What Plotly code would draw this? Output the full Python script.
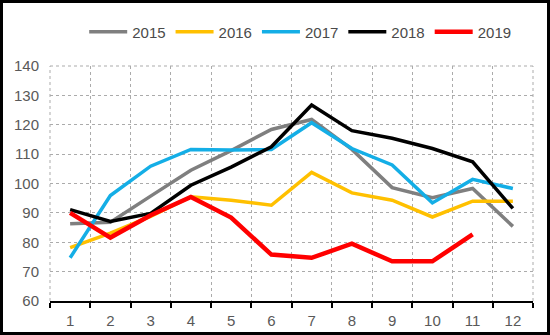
import plotly.graph_objects as go

# Monthly index values, one list per year
months = ["1", "2", "3", "4", "5", "6", "7", "8", "9", "10", "11", "12"]
y2015 = [86.3, 86.8, 95.7, 104.5, 111.2, 118.4, 121.8, 111.6, 98.6, 95.2, 98.3, 85.4]
y2016 = [78.2, 83.1, 88.8, 95.5, 94.3, 92.6, 103.8, 96.8, 94.3, 88.6, 94.0, 94.0]
y2017 = [74.7, 95.9, 105.9, 111.6, 111.4, 111.6, 120.7, 111.9, 106.3, 93.4, 101.4, 98.3]
y2018 = [91.1, 87.1, 89.8, 99.4, 105.6, 112.5, 126.7, 118.0, 115.4, 111.9, 107.4, 91.5]
y2019 = [90.0, 81.6, 89.2, 95.4, 88.4, 75.8, 74.7, 79.5, 73.5, 73.5, 82.7]

years = ["2015", "2016", "2017", "2018", "2019"]
series = [y2015, y2016, y2017, y2018, y2019]
colors = ["#7f7f7f", "#ffc000", "#14aee6", "#000000", "#ff0000"]
widths = [3.5, 3.5, 3.5, 3.5, 4.5]

fig = go.Figure()
for name, vals, col, w in zip(years, series, colors, widths):
    fig.add_trace(go.Scatter(
        x=months[:len(vals)], y=vals, name=name, mode="lines",
        line=dict(color=col, width=w),
    ))

W, H = 550, 335
ml, mr, mt, mb = 50, 17, 66, 34
pw, ph = W - ml - mr, H - mt - mb
grid = dict(color="#ababab", width=1, dash="3px,3px")

fig.update_layout(
    width=W, height=H,
    margin=dict(l=ml, r=mr, t=mt, b=mb, autoexpand=False),
    paper_bgcolor="white", plot_bgcolor="white",
    font=dict(family="Liberation Sans, Arial", color="#595959", size=14),
    showlegend=True,
    legend=dict(
        orientation="h", x=0.518, xanchor="center", y=1 + 34 / ph, yanchor="middle",
        font=dict(size=15, color="#4a4a4a"),
        itemwidth=38, tracegroupgap=0,
        bgcolor="rgba(0,0,0,0)",
    ),
    xaxis=dict(
        type="category", range=[-0.5, 11.5], tickson="boundaries",
        ticks="outside", ticklen=5, tickwidth=2, tickcolor="black",
        showline=True, linecolor="black", linewidth=2,
        showgrid=True, gridcolor=grid["color"], griddash=grid["dash"], gridwidth=1,
        tickfont=dict(size=15, color="#595959"), ticklabelstandoff=5,
        automargin=False,
    ),
    yaxis=dict(
        range=[60, 140], dtick=10, tick0=60,
        showgrid=True, gridcolor=grid["color"], griddash=grid["dash"], gridwidth=1,
        zeroline=False, showline=False, ticks="",
        tickfont=dict(size=15, color="#595959"), ticklabelstandoff=10,
        automargin=False,
    ),
    shapes=[
        # dashed frame edges of the plotting area
        dict(type="line", xref="paper", yref="paper", x0=0, x1=1, y0=1, y1=1,
             line=grid, layer="below"),
        dict(type="line", xref="paper", yref="paper", x0=1, x1=1, y0=0, y1=1,
             line=grid, layer="below"),
        dict(type="line", xref="paper", yref="paper", x0=0, x1=0, y0=0, y1=1,
             line=grid, layer="below"),
        # outer black frame around the whole figure
        dict(type="rect", xref="paper", yref="paper",
             x0=-(ml - 1.5) / pw, x1=1 + (mr - 1.5) / pw,
             y0=-(mb - 1.5) / ph, y1=1 + (mt - 1.5) / ph,
             line=dict(color="black", width=3)),
    ],
)

fig.write_html("out.html")
